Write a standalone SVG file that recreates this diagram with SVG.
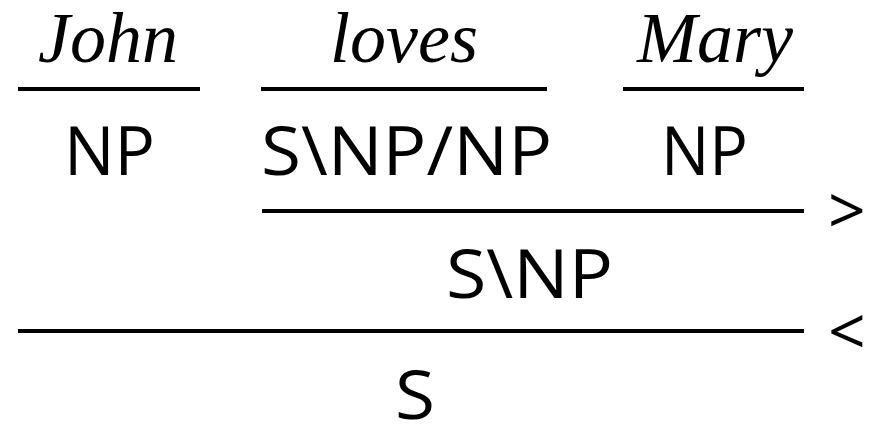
<svg xmlns="http://www.w3.org/2000/svg" width="871" height="425" viewBox="0 0 871 425">
<style>
.w{font-family:"Liberation Serif","Times New Roman",serif;font-style:italic;font-size:72px;fill:#000}
.c{font-family:"Open Sans","Noto Sans",sans-serif;font-size:68px;fill:#000}
.op{font-family:"Open Sans","Noto Sans",sans-serif;font-size:66px;fill:#000}
.l{stroke:#000;stroke-width:4;fill:none}
</style>
<rect width="871" height="425" fill="#fff"/>
<g id="john"><text class="w" x="38" y="62">John</text></g>
<g id="loves"><text class="w" x="330" y="62">loves</text></g>
<g id="mary"><text class="w" x="637" y="62">Mary</text></g>
<g id="np1"><text class="c" x="64" y="175" textLength="91" lengthAdjust="spacingAndGlyphs">NP</text></g>
<g id="verb"><text class="c" x="261" y="175" textLength="291" lengthAdjust="spacingAndGlyphs">S\NP/NP</text></g>
<g id="np2"><text class="c" x="661" y="175" textLength="87" lengthAdjust="spacingAndGlyphs">NP</text></g>
<g id="vp"><text class="c" x="446" y="298" textLength="167" lengthAdjust="spacingAndGlyphs">S\NP</text></g>
<g id="s"><text class="c" x="395" y="419" textLength="40" lengthAdjust="spacingAndGlyphs">S</text></g>
<g id="connectors">
<line class="l" x1="18" y1="89" x2="200" y2="89"/>
<line class="l" x1="261" y1="89" x2="547" y2="89"/>
<line class="l" x1="623" y1="89" x2="804" y2="89"/>
<line class="l" x1="262" y1="211" x2="804" y2="211"/>
<line class="l" x1="18" y1="331" x2="804" y2="331"/>
<text class="op" x="828" y="234">&gt;</text>
<text class="op" x="828" y="355">&lt;</text>
</g>
</svg>
